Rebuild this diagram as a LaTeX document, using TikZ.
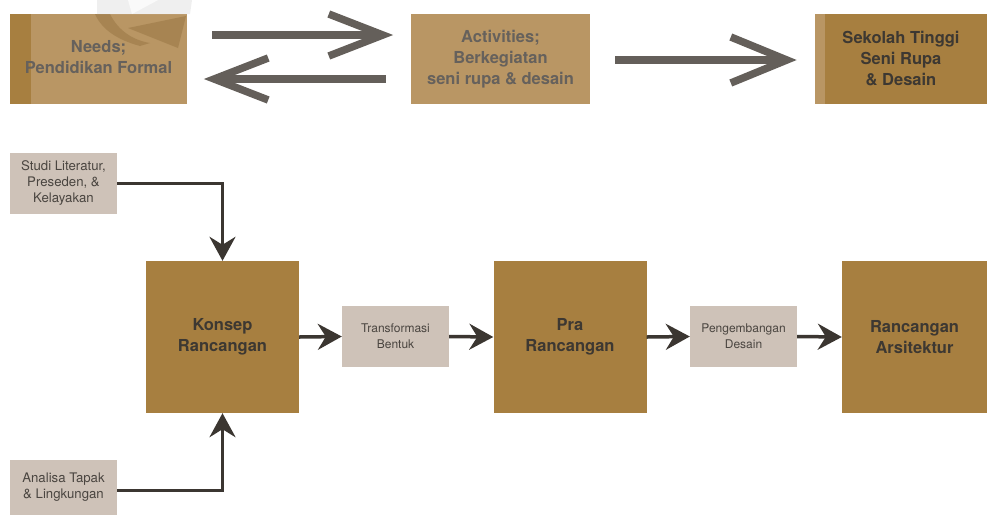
\documentclass[tikz,border=0pt]{standalone}
\usepackage{fontspec}
\setmainfont{TeX Gyre Heros}
\usetikzlibrary{arrows.meta,calc}
\definecolor{tanL}{HTML}{B99664}
\definecolor{tanD}{HTML}{A77F40}
\definecolor{greyB}{HTML}{CEC2B8}
\definecolor{txtG}{HTML}{66615C}
\definecolor{txtD}{HTML}{3D3832}
\definecolor{txtS}{HTML}{4A4540}
\definecolor{arrG}{HTML}{645F5A}
\definecolor{arrD}{HTML}{3B3631}
\begin{document}
\begin{tikzpicture}[x=1pt,y=-1pt,
  topbox/.style={minimum height=90pt, inner sep=0pt, align=center,
    font=\fontsize{16.5}{21}\selectfont\bfseries},
  bigbox/.style={fill=tanD, minimum width=153pt, minimum height=152pt, inner sep=0pt,
    align=center, text=txtD, font=\fontsize{16.5}{21}\selectfont\bfseries},
  smallbox/.style={fill=greyB, minimum width=107pt, inner sep=0pt, align=center,
    text=txtS, font=\fontsize{12}{16}\selectfont},
  sidebox/.style={smallbox, font=\fontsize{13.2}{16}\selectfont},
  flow/.style={draw=arrD, line width=3.5pt, -{Stealth[length=24pt,width=26pt,inset=8pt]}},
  chev/.style={draw=arrG, line width=7.5pt, miter limit=10}
]
\useasboundingbox (0,0) rectangle (987,515);

% top row
\node[topbox, fill=tanL, minimum width=177pt, text=txtG,
  path picture={\fill[tanD] (path picture bounding box.north west) rectangle ([xshift=21pt]path picture bounding box.south west);}]
  (needs) at (98.5,59) {Needs;\\Pendidikan Formal\vphantom{y}};
\node[topbox, fill=tanL, minimum width=179pt, text=txtG] (act) at (500.5,59)
  {Activities;\\Berkegiatan\\seni rupa \& desain};
\node[topbox, fill=tanD, minimum width=172pt, text=txtD,
  path picture={\fill[tanL] (path picture bounding box.north west) rectangle ([xshift=10pt]path picture bounding box.south west);}]
  (sek) at (901,59) {Sekolah Tinggi\\Seni Rupa\\\& Desain};

% faint watermark
\fill[black!10, opacity=.6] (97,0) -- (192,0) -- (190,14) -- (97,14) -- cycle;
\fill[white, opacity=.7] (128,0) -- (158,0) -- (132,14) -- cycle;
\fill[tanD!80!black, opacity=.35] (95,14) -- (110,14) .. controls (118,30) and (132,40) .. (150,43) -- (140,46) .. controls (118,40) and (102,30) .. cycle;
\fill[tanD!80!black, opacity=.35] (128,28) -- (186,16) -- (178,48) -- cycle;

% top arrows
\draw[chev] ($(needs.east)+(25,-24)$) -- ($(act.west)+(-28,-24)$);
\draw[chev, line join=miter] ($(act.west)+(-82,-45)$) -- ($(act.west)+(-28,-24)$) -- ($(act.west)+(-82,-3)$);
\draw[chev] ($(act.west)+(-25,20)$) -- ($(needs.east)+(27,20)$);
\draw[chev, line join=miter] ($(needs.east)+(81,-1)$) -- ($(needs.east)+(27,20)$) -- ($(needs.east)+(81,41)$);
\draw[chev] ($(act.east)+(25,1)$) -- ($(sek.west)+(-28,1)$);
\draw[chev, line join=miter] ($(sek.west)+(-84,-22)$) -- ($(sek.west)+(-28,1)$) -- ($(sek.west)+(-84,24)$);

% bottom flow
\node[sidebox, minimum height=61pt] (studi) at (63.5,183.5) {Studi Literatur,\\Preseden, \&\\Kelayakan};
\node[sidebox, minimum height=55pt] (anal) at (63.5,487.5) {Analisa Tapak\\\& Lingkungan};
\node[bigbox] (konsep) at (222.5,337) {Konsep\\Rancangan};
\node[smallbox, minimum height=61pt] (trans) at (395.5,336.5) {Transformasi\\Bentuk};
\node[bigbox] (pra) at (570,337) {Pra\\Rancangan};
\node[smallbox, minimum height=61pt] (peng) at (743.5,336.5) {Pengembangan\\Desain};
\node[bigbox, minimum width=145pt] (ars) at (914.5,337) {Rancangan\\Arsitektur};

\draw[flow] (studi.east) -| (konsep.north);
\draw[flow] ([yshift=-3pt]anal.east) -| (konsep.south);
\draw[flow] (konsep.east) -- (trans.west);
\draw[flow] (trans.east) -- (pra.west);
\draw[flow] (pra.east) -- (peng.west);
\draw[flow] (peng.east) -- (ars.west);
\end{tikzpicture}
\end{document}
